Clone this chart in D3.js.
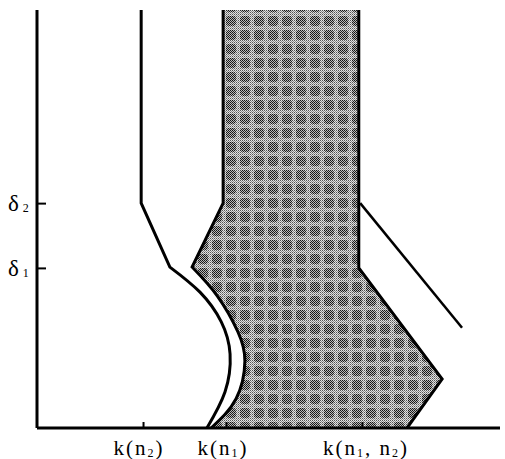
<!DOCTYPE html>
<html>
<head>
<meta charset="utf-8">
<script src="https://cdn.jsdelivr.net/npm/d3@7"></script>
<style>
  body { margin: 0; background: #fff; }
  text { font-family: "Liberation Serif", "DejaVu Serif", serif; fill: #000; }
</style>
</head>
<body>
<div id="chart"></div>
<script>
// values, in chart units (x: 0-100, y: 0-100)
var xTicks = [22.9, 40.8, 70.2];
var xTickNames = [["k(n", "2", ")"], ["k(n", "1", ")"], ["k(n", "1", ", n", "2", ")"]];
var yTicks = [53.8, 38.3];
var yTickSubs = ["2", "1"];

// left line (n2): straight part then the bulge down to the axis
var n2Straight = [[22.5, 100], [22.5, 53.8], [28.7, 38.5]];
var n2Curve = [[28.7, 38.5], [35.2, 32.5], [39.8, 25.4], [41.7, 17.7], [40.6, 8.6], [36.7, 0]];

// left edge of the shaded zone
var n1Straight = [[40.2, 100], [40.2, 53.8], [33.5, 38.5]];
var n1Curve = [[33.5, 38.5], [39.0, 31.5], [43.4, 23.0], [44.9, 16.0], [43.0, 7.0], [37.6, 0]];

// right edge of the shaded zone
var n12Edge = [[69.5, 100], [69.5, 38.3], [87.5, 11.7], [79.9, 0]];

// the loose diagonal on the right
var diag = [[69.8, 53.8], [91.8, 24.0]];

var W = 505, H = 459;
var svg = d3.select("#chart").append("svg")
  .attr("width", W).attr("height", H);

var x = d3.scaleLinear().domain([0, 100]).range([37, 500]);
var y = d3.scaleLinear().domain([0, 100]).range([428, 10]);

// halftone fill: dithered dark cells on a lighter dithered ground
var defs = svg.append("defs");
var pd = defs.append("pattern").attr("id", "dark")
  .attr("patternUnits", "userSpaceOnUse").attr("width", 2).attr("height", 2);
pd.append("rect").attr("width", 2).attr("height", 2).attr("fill", "#b8b8b8");
pd.append("rect").attr("width", 1).attr("height", 1).attr("fill", "#111");
pd.append("rect").attr("x", 1).attr("y", 1).attr("width", 1).attr("height", 1).attr("fill", "#222");
var pl = defs.append("pattern").attr("id", "light")
  .attr("patternUnits", "userSpaceOnUse").attr("width", 2).attr("height", 2);
pl.append("rect").attr("width", 2).attr("height", 2).attr("fill", "#e4e4e4");
pl.append("rect").attr("width", 1).attr("height", 1).attr("fill", "#555");
pl.append("rect").attr("x", 1).attr("y", 1).attr("width", 1).attr("height", 1).attr("fill", "#8a8a8a");
var cell = defs.append("pattern").attr("id", "halftone")
  .attr("patternUnits", "userSpaceOnUse").attr("width", 14).attr("height", 14);
cell.append("rect").attr("width", 14).attr("height", 14).attr("fill", "url(#light)");
cell.append("rect").attr("x", 2).attr("y", 2).attr("width", 10).attr("height", 10)
  .attr("rx", 3).attr("fill", "url(#dark)");

var lin = d3.line().x(d => x(d[0])).y(d => y(d[1]));
var crv = d3.line().x(d => x(d[0])).y(d => y(d[1])).curve(d3.curveNatural);

function joined(a, b) {
  return lin(a) + crv(b).replace(/^M[^A-Za-z]*/, "");
}

// shaded zone
var leftPath = joined(n1Straight, n1Curve);
var rightPath = lin(n12Edge.slice().reverse());
svg.append("path")
  .attr("d", leftPath + "L" + rightPath.slice(1) + "Z")
  .attr("fill", "url(#halftone)");

svg.append("path").attr("d", leftPath)
  .attr("fill", "none").attr("stroke", "#000").attr("stroke-width", 3);
svg.append("path").attr("d", lin(n12Edge))
  .attr("fill", "none").attr("stroke", "#000").attr("stroke-width", 3);

svg.append("path").attr("d", joined(n2Straight, n2Curve))
  .attr("fill", "none").attr("stroke", "#000").attr("stroke-width", 3);

svg.append("path").attr("d", lin(diag))
  .attr("fill", "none").attr("stroke", "#000").attr("stroke-width", 2.5);

// axes
var xAxis = svg.append("g").attr("transform", "translate(0," + y(0) + ")")
  .call(d3.axisTop(x).tickValues(xTicks).tickSize(6).tickFormat("").tickSizeOuter(0));
var yAxis = svg.append("g").attr("transform", "translate(" + x(0) + ",0)")
  .call(d3.axisRight(y).tickValues(yTicks).tickSize(9).tickFormat("").tickSizeOuter(0));
svg.selectAll(".domain").attr("stroke", "#000").attr("stroke-width", 3);
svg.selectAll(".tick line").attr("stroke", "#000").attr("stroke-width", 2);
xAxis.select(".domain").attr("d", "M" + x(0) + ",0H" + x(100));
yAxis.select(".domain").attr("d", "M0," + y(100) + "V" + y(0));

// x labels with subscripts
xTickNames.forEach(function(parts, i) {
  var t = svg.append("text")
    .attr("x", x(xTicks[i]) + [-4, -3, 4][i])
    .attr("y", 455)
    .attr("text-anchor", "middle")
    .attr("font-size", 21)
    .attr("letter-spacing", 2);
  parts.forEach(function(p, j) {
    var isSub = /^[0-9]$/.test(p);
    t.append("tspan")
      .attr("font-size", isSub ? 12 : 21)
      .attr("dy", isSub ? 2 : (j > 0 ? -2 : 0))
      .text(p);
  });
});

// y labels: delta with subscript
yTicks.forEach(function(v, i) {
  var t = svg.append("text")
    .attr("x", 8).attr("y", y(v) + 8)
    .attr("font-size", 23);
  t.append("tspan").text("δ");
  t.append("tspan").attr("font-size", 12)
    .attr("dx", 4).attr("dy", 1).text(yTickSubs[i]);
});
</script>
</body>
</html>
